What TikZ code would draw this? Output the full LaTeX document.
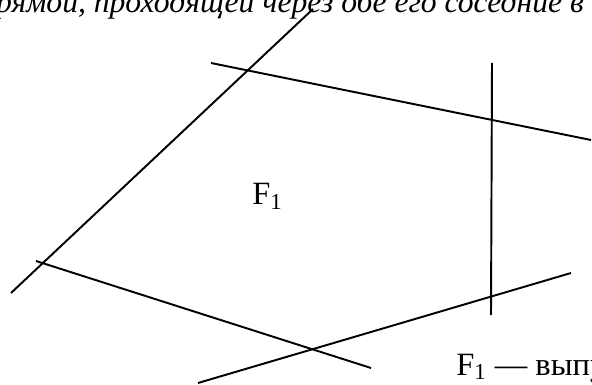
\documentclass[tikz,border=0pt]{standalone}
\usepackage{fontspec}
\setmainfont{Liberation Serif}
\usetikzlibrary{positioning}

\begin{document}
\begin{tikzpicture}[
  x=0.02cm, y=-0.02cm,
  every node/.style={font=\fontsize{18.5}{22}\selectfont, inner sep=0pt, anchor=base west},
  side/.style ={draw, line width=1.1pt},
  intro/.style={font=\fontsize{18}{22}\selectfont\itshape},
]
\useasboundingbox (0,0) rectangle (592,385);
\clip (0,0) rectangle (592,385);

% ends of the five lines
\coordinate (a1) at (11,293);  \coordinate (a2) at (313,9);
\coordinate (b1) at (211,63);  \coordinate (b2) at (591,140);
\coordinate (c1) at (492,63);  \coordinate (c2) at (491,315);
\coordinate (d1) at (36,261);  \coordinate (d2) at (371,368);
\coordinate (e1) at (198,383); \coordinate (e2) at (571,273);

\draw[side] (a1) -- (a2);
\draw[side] (b1) -- (b2);
\draw[side] (c1) -- (c2);
\draw[side] (d1) -- (d2);
\draw[side] (e1) -- (e2);

\node[intro] (intro) at (-20,13) {прямой, проходящей через обе его соседние в};
\node (face) at (252,205) {F\textsubscript{1}};
\node (note) at (456,375) {F\textsubscript{1} — выпу};

\end{tikzpicture}
\end{document}
